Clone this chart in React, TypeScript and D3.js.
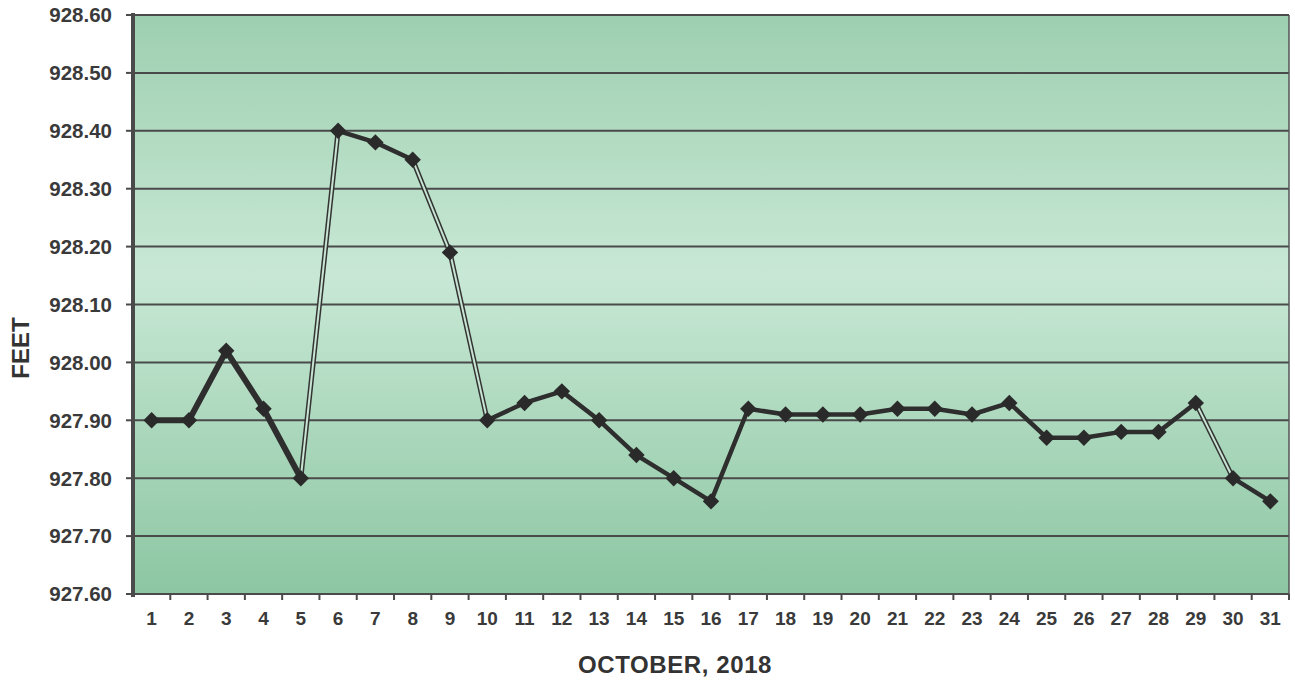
import React from "react";
import * as d3 from "d3";

const days: string[] = Array.from({ length: 31 }, (_, i) => String(i + 1));
const levels: number[] = [
  927.9, 927.9, 928.02, 927.92, 927.8, 928.4, 928.38, 928.35, 928.19, 927.9,
  927.93, 927.95, 927.9, 927.84, 927.8, 927.76, 927.92, 927.91, 927.91, 927.91,
  927.92, 927.92, 927.91, 927.93, 927.87, 927.87, 927.88, 927.88, 927.93, 927.8,
  927.76,
];
const yTicks: number[] = [927.6, 927.7, 927.8, 927.9, 928.0, 928.1, 928.2, 928.3, 928.4, 928.5, 928.6];
// segments drawn as hollow double lines (index of start point)
const hollowSegments: number[] = [4, 7, 8, 28];

const W = 1295;
const H = 683;
const left = 133;
const right = 1289;
const top = 15;
const bottom = 594;

export default function App() {
  const x = d3.scaleBand<string>().domain(days).range([left, right]);
  const y = d3.scaleLinear().domain([927.6, 928.6]).range([bottom, top]);
  const cx = (i: number) => (x(days[i]) as number) + x.bandwidth() / 2;
  const cy = (i: number) => y(levels[i]);
  const diamond = d3.symbol().type(d3.symbolSquare).size(135)();
  const font = "'Liberation Sans', Arial, sans-serif";

  const segs = levels.slice(0, -1).map((_, i) => ({
    i,
    hollow: hollowSegments.includes(i),
    d: `M${cx(i)},${cy(i)}L${cx(i + 1)},${cy(i + 1)}`,
  }));

  return (
    <svg width={W} height={H} style={{ position: "absolute", left: 0, top: 0, background: "#fff" }}>
      <defs>
        <linearGradient id="bg" x1="0" y1="0" x2="0" y2="1">
          <stop offset="0" stopColor="rgb(158,207,176)" />
          <stop offset="0.45" stopColor="rgb(200,232,213)" />
          <stop offset="1" stopColor="rgb(140,198,162)" />
        </linearGradient>
      </defs>
      <rect x={left} y={top} width={right - left} height={bottom - top} fill="url(#bg)" />
      {yTicks.map((t) => (
        <g key={t}>
          {t > 927.6 && (
            <line x1={left} x2={right} y1={y(t)} y2={y(t)} stroke="#4a4a4a" strokeWidth={2} />
          )}
          <line x1={left - 7} x2={left} y1={y(t)} y2={y(t)} stroke="#4a4a4a" strokeWidth={2} />
          <text
            x={112}
            y={y(t)}
            dy="0.36em"
            textAnchor="end"
            fontFamily={font}
            fontWeight="bold"
            fontSize={20.5}
            fill="#3a3a3a"
          >
            {t.toFixed(2)}
          </text>
        </g>
      ))}
      <line x1={right} x2={right} y1={top} y2={bottom} stroke="#555" strokeWidth={1.5} />
      <line x1={left} x2={right} y1={bottom} y2={bottom} stroke="#4a4a4a" strokeWidth={2} />
      <line x1={left} x2={left} y1={top - 2} y2={bottom + 3} stroke="#4a4a4a" strokeWidth={4} />
      {days.map((d, i) => (
        <g key={d}>
          <line
            x1={(x(d) as number) + x.bandwidth()}
            x2={(x(d) as number) + x.bandwidth()}
            y1={bottom}
            y2={bottom + 6}
            stroke="#4a4a4a"
            strokeWidth={2}
          />
          <text
            x={cx(i)}
            y={625}
            textAnchor="middle"
            fontFamily={font}
            fontWeight="bold"
            fontSize={19}
            fill="#3a3a3a"
          >
            {d}
          </text>
        </g>
      ))}
      {segs.map((s) =>
        s.hollow ? (
          <g key={s.i}>
            <path d={s.d} stroke="#333" strokeWidth={5} fill="none" />
            <path d={s.d} stroke="rgb(200,228,210)" strokeWidth={2} fill="none" />
          </g>
        ) : (
          <path key={s.i} d={s.d} stroke="#2e2e2e" strokeWidth={s.i < 4 ? 6 : 4.5} fill="none" strokeLinecap="round" />
        )
      )}
      {levels.map((_, i) => (
        <path
          key={i}
          d={diamond as string}
          transform={`translate(${cx(i)},${cy(i)}) rotate(45)`}
          fill="#2a2a2a"
        />
      ))}
      <text
        x={675}
        y={673}
        textAnchor="middle"
        fontFamily={font}
        fontWeight="bold"
        fontSize={24}
        letterSpacing={0.6}
        fill="#333"
      >
        OCTOBER, 2018
      </text>
      <text
        transform={`translate(29,${348}) rotate(-90)`}
        textAnchor="middle"
        fontFamily={font}
        fontWeight="bold"
        fontSize={24}
        fill="#333"
      >
        FEET
      </text>
    </svg>
  );
}
